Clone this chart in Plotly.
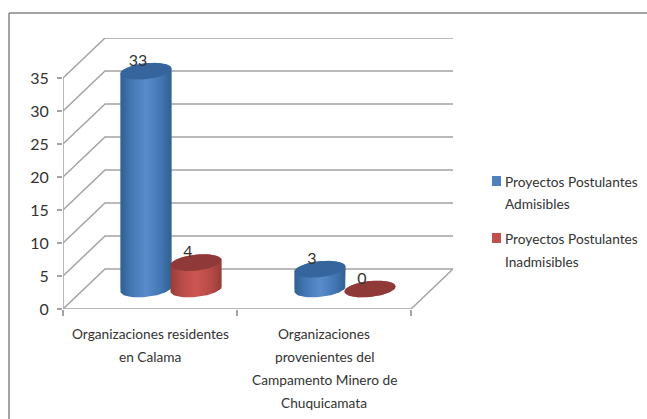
import numpy as np
import plotly.graph_objects as go

# values
category_lines = [["Organizaciones residentes", "en Calama"],
                  ["Organizaciones", "provenientes del", "Campamento Minero de", "Chuquicamata"]]
series_names = ["Proyectos Postulantes Admisibles", "Proyectos Postulantes Inadmisibles"]
admisibles = [33, 3]
inadmisibles = [4, 0]
y_ticks = [0, 5, 10, 15, 20, 25, 30, 35]

FONT = "Lato, sans-serif"
TEXT = "#333333"
GRID = "#a3a3a3"

# fake 3D: how far the back wall sits from the front, in data units
DEPTH_X = 0.2414
DEPTH_Y = 6.06
BAR_W = 0.293
RY = 1.21
TILT = 0.38

series = [
    dict(name=series_names[0], values=admisibles, shift=-0.1437, color="#4f81bd", top="#35659c",
         scale=[[0, "#31608f"], [0.2, "#4276b3"], [0.5, "#5a8ccb"], [0.8, "#4276b3"], [1, "#31608f"]]),
    dict(name=series_names[1], values=inadmisibles, shift=0.1437, color="#c0504d", top="#8f3a38",
         scale=[[0, "#963d3a"], [0.2, "#b54a47"], [0.5, "#cd5551"], [0.8, "#b54a47"], [1, "#963d3a"]]),
]


def ellipse(cx, cy, t):
    u = np.cos(t)
    return cx + u * BAR_W / 2, cy + RY * np.sin(t) + TILT * u


fig = go.Figure()

# --- flat bars hold the values, the cylinders are drawn over them ---
for s in series:
    xs = [i + DEPTH_X / 2 + s["shift"] for i in range(len(s["values"]))]
    fig.add_trace(go.Bar(x=xs, y=s["values"], base=DEPTH_Y / 2, width=BAR_W, marker_color=s["color"],
                         name=s["name"], showlegend=False))

# --- walls and floor ---
grid_x, grid_y = [], []
for v in y_ticks:
    grid_x.extend([-0.5, -0.5 + DEPTH_X, 1.5 + DEPTH_X, None])
    grid_y.extend([v, v + DEPTH_Y, v + DEPTH_Y, None])
grid_x.extend([-0.5, 1.5, 1.5 + DEPTH_X, None, -0.5, -0.5])
grid_y.extend([0, 0, DEPTH_Y, None, 0, y_ticks[-1]])
fig.add_trace(go.Scatter(x=grid_x, y=grid_y, mode="lines", line=dict(color=GRID, width=1.5),
                         hoverinfo="skip", showlegend=False))

# --- cylinders ---
for s in series:
    for i, v in enumerate(s["values"]):
        cx = i + DEPTH_X / 2 + s["shift"]
        base = DEPTH_Y / 2
        top_x, top_y = ellipse(cx, base + v, np.linspace(np.pi, 0, 40))
        bot_x, bot_y = ellipse(cx, base, np.linspace(0, -np.pi, 40))
        fig.add_trace(go.Scatter(
            x=np.concatenate([top_x, bot_x]), y=np.concatenate([top_y, bot_y]),
            mode="lines", line=dict(width=0), fill="toself",
            fillgradient=dict(type="horizontal", colorscale=s["scale"],
                              start=cx - BAR_W / 2, stop=cx + BAR_W / 2),
            hoverinfo="skip", showlegend=False))
        cap_x, cap_y = ellipse(cx, base + v, np.linspace(0, 2 * np.pi, 80))
        fig.add_trace(go.Scatter(x=cap_x, y=cap_y, mode="lines", line=dict(width=0), fill="toself",
                                 fillcolor=s["top"], hoverinfo="skip", showlegend=False))

# --- value labels ---
for s in series:
    xs = [i + DEPTH_X / 2 + s["shift"] - 0.046 for i in range(len(s["values"]))]
    ys = [v + DEPTH_Y / 2 + 1.4 for v in s["values"]]
    fig.add_trace(go.Scatter(x=xs, y=ys, mode="text", text=[str(v) for v in s["values"]],
                             textposition="middle center", textfont=dict(family=FONT, size=16, color=TEXT),
                             hoverinfo="skip", showlegend=False))


def px_x(px):
    return (px - 63) / 390


def px_y(py):
    return (309 - py) / 271


# --- outer frame, open at the right and the bottom ---
shapes = [
    dict(type="line", xref="paper", yref="paper", x0=px_x(9), x1=px_x(647), y0=px_y(13), y1=px_y(13),
         line=dict(color="#868686", width=1.5)),
    dict(type="line", xref="paper", yref="paper", x0=px_x(9), x1=px_x(9), y0=px_y(13), y1=px_y(419),
         line=dict(color="#868686", width=1.5)),
]
annotations = []

# --- category labels, one annotation per line to keep the wide line spacing ---
for i, lines in enumerate(category_lines):
    for k, line in enumerate(lines):
        annotations.append(dict(xref="x", yref="paper", x=i, y=px_y(333 + k * 23), text=line, showarrow=False,
                                xanchor="center", yanchor="middle",
                                font=dict(family=FONT, size=13.7, color=TEXT)))

# --- legend ---
legend_lines = [["Proyectos Postulantes", "Admisibles"], ["Proyectos Postulantes", "Inadmisibles"]]
for s, lines, py in zip(series, legend_lines, [181, 238]):
    shapes.append(dict(type="rect", xref="paper", yref="paper", x0=px_x(492), x1=px_x(501),
                       y0=px_y(py - 5), y1=px_y(py + 5), fillcolor=s["color"], line=dict(width=0)))
    for k, line in enumerate(lines):
        annotations.append(dict(xref="paper", yref="paper", x=px_x(503), y=px_y(py + k * 23), text=line,
                                showarrow=False, xanchor="left", yanchor="middle",
                                font=dict(family=FONT, size=13.7, color=TEXT)))

fig.update_layout(
    width=647, height=419, autosize=False,
    margin=dict(l=63, r=194, t=38, b=110, pad=0),
    paper_bgcolor="white", plot_bgcolor="white",
    barmode="overlay", showlegend=False,
    shapes=shapes, annotations=annotations,
    xaxis=dict(range=[-0.5, 1.5 + DEPTH_X], tickvals=[-0.5, 0.5, 1.5], showticklabels=False, ticks="outside",
               ticklen=6, tickwidth=1.5, tickcolor=GRID, showgrid=False, zeroline=False, showline=False,
               automargin=False),
    yaxis=dict(range=[0, 35 + DEPTH_Y], tickvals=y_ticks, ticks="outside", ticklen=5, tickwidth=1.5,
               tickcolor=GRID, showgrid=False, zeroline=False, showline=False, ticklabelstandoff=5,
               automargin=False, tickfont=dict(family=FONT, size=16, color=TEXT)),
)

fig.write_html("out.html", config=dict(displayModeBar=False), post_script="document.body.style.margin='0';")
